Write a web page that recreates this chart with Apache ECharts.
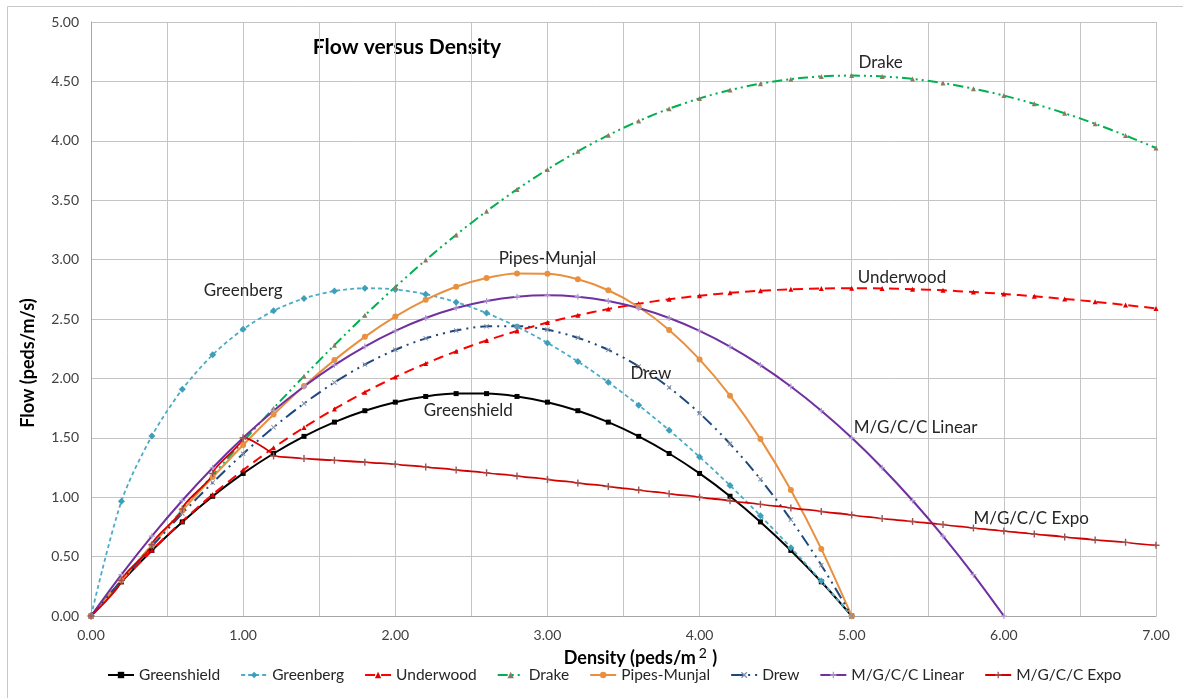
<!DOCTYPE html>
<html>
<head>
<meta charset="UTF-8">
<title>Flow versus Density</title>
<script src="https://cdn.jsdelivr.net/npm/echarts@6/dist/echarts.min.js"></script>
<style>
    html,body{margin:0;padding:0;background:#fff;}
    #chart{width:1183px;height:698px;}
</style>
</head>
<body>
<div id="chart"></div>
<script>
    // density steps (peds/m2)
    const density = [0, 0.2, 0.4, 0.6, 0.8, 1.0, 1.2, 1.4, 1.6, 1.8, 2.0, 2.2, 2.4, 2.6, 2.8, 3.0, 3.2, 3.4,
        3.6, 3.8, 4.0, 4.2, 4.4, 4.6, 4.8, 5.0, 5.2, 5.4, 5.6, 5.8, 6.0, 6.2, 6.4, 6.6, 6.8, 7.0];

    // flow values (peds/m/s)
    const greenshield = [0, 0.288, 0.552, 0.792, 1.008, 1.2, 1.368, 1.512, 1.632, 1.728, 1.8, 1.848, 1.872,
        1.872, 1.848, 1.8, 1.728, 1.632, 1.512, 1.368, 1.2, 1.008, 0.792, 0.552, 0.288, 0];
    const greenberg = [0, 0.966, 1.515, 1.908, 2.199, 2.414, 2.569, 2.673, 2.735, 2.759, 2.749, 2.709, 2.642,
        2.550, 2.435, 2.299, 2.142, 1.967, 1.774, 1.564, 1.339, 1.099, 0.844, 0.575, 0.294, 0];
    const underwood = [0, 0.288, 0.554, 0.798, 1.023, 1.228, 1.416, 1.587, 1.743, 1.884, 2.011, 2.125, 2.228,
        2.319, 2.399, 2.470, 2.531, 2.584, 2.629, 2.666, 2.696, 2.720, 2.738, 2.750, 2.757, 2.759, 2.757, 2.751,
        2.741, 2.727, 2.711, 2.691, 2.669, 2.645, 2.618, 2.589];
    const drake = [0, 0.300, 0.598, 0.894, 1.185, 1.470, 1.749, 2.019, 2.280, 2.531, 2.769, 2.996, 3.208,
        3.407, 3.591, 3.759, 3.911, 4.047, 4.167, 4.270, 4.357, 4.427, 4.481, 4.519, 4.542, 4.549, 4.542, 4.521,
        4.486, 4.439, 4.381, 4.311, 4.232, 4.143, 4.045, 3.939];
    const pipesMunjal = [0, 0.300, 0.596, 0.887, 1.169, 1.440, 1.696, 1.935, 2.154, 2.350, 2.520, 2.661, 2.771,
        2.845, 2.883, 2.880, 2.834, 2.742, 2.601, 2.408, 2.160, 1.855, 1.489, 1.060, 0.565, 0];
    const drew = [0, 0.298, 0.586, 0.863, 1.123, 1.366, 1.588, 1.789, 1.966, 2.117, 2.241, 2.337, 2.403,
        2.438, 2.440, 2.409, 2.342, 2.240, 2.101, 1.923, 1.707, 1.450, 1.152, 0.811, 0.428, 0];
    const mgccLinear = [0, 0.348, 0.672, 0.972, 1.248, 1.5, 1.728, 1.932, 2.112, 2.268, 2.4, 2.508, 2.592,
        2.652, 2.688, 2.7, 2.688, 2.652, 2.592, 2.508, 2.4, 2.268, 2.112, 1.932, 1.728, 1.5, 1.248, 0.972,
        0.672, 0.348, 0];
    const mgccExpo = [0, 0.3, 0.6, 0.9, 1.2, 1.5, 1.347, 1.325, 1.31, 1.295, 1.277, 1.255, 1.23, 1.205,
        1.178, 1.15, 1.12, 1.09, 1.06, 1.03, 1.0, 0.97, 0.94, 0.91, 0.88, 0.85, 0.82, 0.795, 0.77, 0.74,
        0.715, 0.69, 0.665, 0.64, 0.62, 0.595];

    // curve names and where their labels sit (density, flow)
    const names = ['Greenshield', 'Greenberg', 'Underwood', 'Drake', 'Pipes-Munjal', 'Drew', 'M/G/C/C Linear', 'M/G/C/C Expo'];
    const labelAt = [[2.48, 1.73], [1.0, 2.74], [5.33, 2.85], [5.19, 4.66], [3.0, 3.01], [3.68, 2.045], [5.42, 1.585], [6.18, 0.82]];

    const FONT = 'Lato, "Open Sans", sans-serif';
    const plus = 'path://M4,0H6V4H10V6H6V10H4V6H0V4H4Z';
    const cross = 'path://M1.4,0L5,3.6L8.6,0L10,1.4L6.4,5L10,8.6L8.6,10L5,6.4L1.4,10L0,8.6L3.6,5L0,1.4Z';

    function pairs(flow){
        let out = [];
        for(let i = 0; i < flow.length; i++){ out.push([density[i], flow[i]]); }
        return out;
    }

    const looks = [
        {flow: greenshield, color: '#000000', line: {width: 2, type: 'solid'}, symbol: 'rect', size: 5, mark: '#000000'},
        {flow: greenberg, color: '#4bacc6', line: {width: 1.8, type: [4, 3]}, symbol: 'diamond', size: 7, mark: '#3f9fba'},
        {flow: underwood, color: '#ff0000', line: {width: 2, type: [10, 6]}, symbol: 'triangle', size: 5, mark: '#e00000'},
        {flow: drake, color: '#00b050', line: {width: 2, type: [10, 4, 2, 4, 2, 4]}, symbol: 'triangle', size: 5, mark: '#8c7b60'},
        {flow: pipesMunjal, color: '#e9903f', line: {width: 2, type: 'solid'}, symbol: 'circle', size: 6, mark: '#e9903f'},
        {flow: drew, color: '#1f497d', line: {width: 2, type: [12, 5, 2, 5, 2, 5]}, symbol: cross, size: 5, mark: '#7f8fa8'},
        {flow: mgccLinear, color: '#7030a0', line: {width: 2, type: 'solid'}, symbol: plus, size: 6, mark: '#b09ad0'},
        {flow: mgccExpo, color: '#d40000', line: {width: 1.8, type: 'solid'}, symbol: plus, size: 7, mark: '#a05050'}
    ];

    const series = looks.map(function (s, i) {
        let isExpo = names[i] === 'M/G/C/C Expo';
        return {
            name: names[i],
            type: 'line',
            data: pairs(s.flow),
            smooth: isExpo ? 0.2 : 0.3,
            smoothMonotone: isExpo ? 'y' : undefined,
            symbol: s.symbol,
            symbolSize: s.size,
            showSymbol: true,
            lineStyle: {color: s.color, width: s.line.width, type: s.line.type},
            itemStyle: {color: s.mark, borderWidth: 0},
            markPoint: {
                symbol: 'circle',
                symbolSize: 0,
                silent: true,
                label: {show: true, position: 'inside', formatter: names[i], color: '#262626', fontSize: 17, fontFamily: FONT},
                data: [{coord: labelAt[i]}]
            }
        };
    });

    const chart = echarts.init(document.getElementById('chart'));
    chart.setOption({
        animation: false,
        backgroundColor: '#ffffff',
        grid: {left: 91, right: 27, top: 22, bottom: 82},
        graphic: [
            {type: 'rect', shape: {x: 7.5, y: 6.5, width: 1200, height: 720}, style: {fill: 'none', stroke: '#c8c8c8', lineWidth: 1}, silent: true},
            {type: 'text', x: 407, y: 47, style: {text: 'Flow versus Density', align: 'center', verticalAlign: 'middle',
                font: 'bold 21px ' + FONT, fill: '#000000'}}
        ],
        legend: {
            data: names,
            left: 102,
            bottom: 10,
            itemWidth: 26,
            itemHeight: 8,
            itemGap: 20,
            textStyle: {fontSize: 15.5, fontFamily: FONT, color: '#262626'}
        },
        xAxis: {
            type: 'value',
            min: 0, max: 7, interval: 0.5,
            name: '{a|Density (peds/m}{sup|2}{a| )}',
            nameLocation: 'middle',
            nameGap: 30,
            nameTextStyle: {
                padding: [0, 0, 0, 34],
                rich: {
                    a: {fontSize: 18, fontWeight: 'bold', fontFamily: FONT, color: '#000'},
                    sup: {fontSize: 14, fontFamily: FONT, color: '#000', padding: [0, 1, 9, 3]}
                }
            },
            axisLine: {lineStyle: {color: '#a6a6a6'}},
            axisTick: {show: false},
            axisLabel: {
                fontSize: 14, fontFamily: FONT, color: '#404040', margin: 12,
                formatter: function (v) { return v % 1 === 0 ? v.toFixed(2) : ''; }
            },
            splitLine: {show: true, lineStyle: {color: '#c4c4c4'}}
        },
        yAxis: {
            type: 'value',
            min: 0, max: 5, interval: 0.5,
            name: 'Flow (peds/m/s)',
            nameLocation: 'middle',
            nameRotate: 90,
            nameGap: 54,
            nameTextStyle: {fontSize: 18, fontWeight: 'bold', fontFamily: FONT, color: '#000', padding: [0, 88, 0, 0]},
            axisLine: {show: true, lineStyle: {color: '#a6a6a6'}},
            axisTick: {show: false},
            axisLabel: {
                fontSize: 14, fontFamily: FONT, color: '#404040', margin: 12,
                formatter: function (v) { return v.toFixed(2); }
            },
            splitLine: {show: true, lineStyle: {color: '#c4c4c4'}}
        },
        series: series
    });
</script>
</body>
</html>
